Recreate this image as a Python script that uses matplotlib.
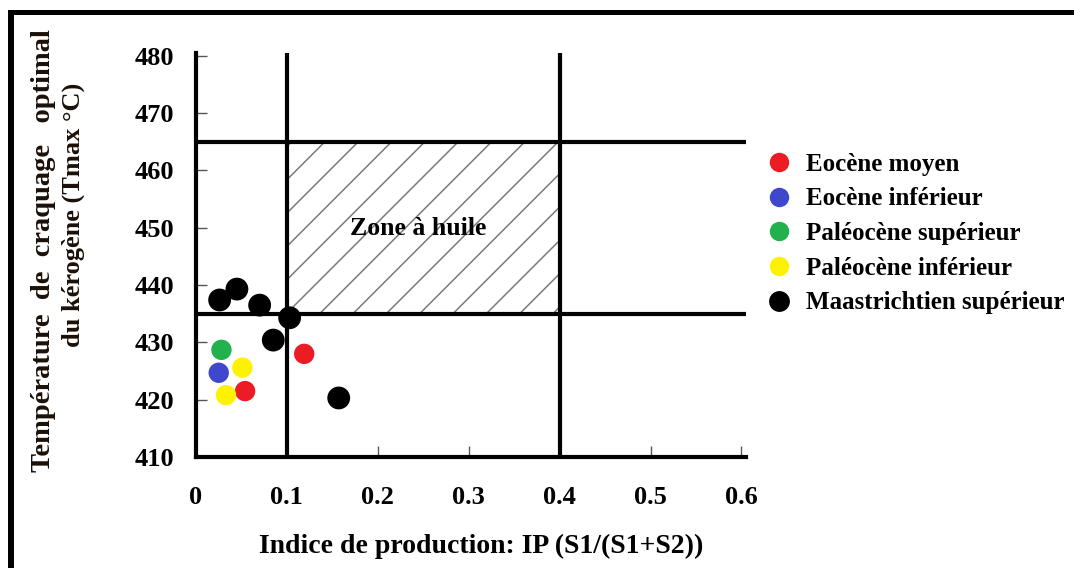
import matplotlib.pyplot as plt
from matplotlib.patches import Rectangle
from matplotlib.lines import Line2D

plt.rcParams['font.family'] = ['Liberation Serif', 'DejaVu Serif']
plt.rcParams['font.weight'] = 'bold'
plt.rcParams['hatch.linewidth'] = 1.1

# data
series_names = ['Eocène moyen', 'Eocène inférieur', 'Paléocène supérieur',
                'Paléocène inférieur', 'Maastrichtien supérieur']
series_colors = ['#ec1c24', '#3f48cc', '#22b14c', '#fff200', '#000000']
ip_values = [
    [0.119, 0.054],
    [0.025],
    [0.028],
    [0.051, 0.033],
    [0.026, 0.045, 0.070, 0.103, 0.085, 0.157],
]
tmax_values = [
    [428.0, 421.5],
    [424.7],
    [428.7],
    [425.6, 420.8],
    [437.4, 439.3, 436.5, 434.3, 430.4, 420.3],
]
x_ticks = [0, 0.1, 0.2, 0.3, 0.4, 0.5, 0.6]
x_tick_labels = ['0', '0.1', '0.2', '0.3', '0.4', '0.5', '0.6']
y_ticks = [410, 420, 430, 440, 450, 460, 470, 480]
ip_limits = [0.1, 0.4]
tmax_limits = [435, 465]

W, H = 1074, 568
fig = plt.figure(figsize=(W / 100, H / 100), dpi=100)
ax = fig.add_axes([196 / W, 111 / H, 550 / W, 404 / H])
ax.set_xlim(0, 0.605)
ax.set_ylim(410, 480.5)

# oil window
ax.add_patch(Rectangle((ip_limits[0], tmax_limits[0]),
                       ip_limits[1] - ip_limits[0], tmax_limits[1] - tmax_limits[0],
                       facecolor='none', edgecolor='#7a7a7a', lw=0, hatch='/', zorder=1))
ax.text(0.244, 449.8, 'Zone à huile', fontsize=18.5,
        fontweight='bold', ha='center', va='center', zorder=2)

for v in ip_limits:
    ax.axvline(v, color='black', lw=3, zorder=3, solid_capstyle='round')
for h in tmax_limits:
    ax.axhline(h, color='black', lw=3, zorder=3, solid_capstyle='round')

for name, col, xs, ys in zip(series_names, series_colors, ip_values, tmax_values):
    size = 270 if col == '#000000' else 215
    ax.scatter(xs, ys, s=size, color=col, edgecolors='none', zorder=4, label=name)

for s in ['top', 'right']:
    ax.spines[s].set_visible(False)
for s in ['left', 'bottom']:
    ax.spines[s].set_linewidth(3)
ax.set_xticks(x_ticks)
ax.set_xticklabels(x_tick_labels)
ax.set_yticks(y_ticks)
ax.tick_params(direction='in', length=8, width=1, color='#555555',
               labelsize=19, labelcolor='black')
ax.tick_params(axis='x', pad=21)
ax.tick_params(axis='y', pad=16)
for lab in ax.get_xticklabels() + ax.get_yticklabels():
    lab.set_fontweight('bold')

fig.text(481 / W, 1 - 546 / H, 'Indice de production: IP (S1/(S1+S2))',
         fontsize=20, fontweight='bold', ha='center', va='center')
fig.text(44 / W, 1 - 251 / H, 'Température  de  craquage   optimal',
         fontsize=20.5, fontweight='bold', rotation=90, ha='center', va='center',
         color='#1a1008')
fig.text(73 / W, 1 - 215 / H, 'du kérogène (Tmax °C)',
         fontsize=19, fontweight='bold', rotation=90, ha='center', va='center',
         color='#1a1008')

handles = [Line2D([], [], ls='none', marker='o', markersize=14 if c != '#000000' else 15,
                  markerfacecolor=c, markeredgecolor='none') for c in series_colors]
fig.legend(handles, series_names, loc='upper left',
           bbox_to_anchor=(751 / W, 1 - 140 / H), frameon=False,
           prop={'size': 18, 'weight': 'bold'}, labelspacing=0.47,
           handletextpad=0.5, handlelength=1.2, borderpad=0)

# outer frame (top and left only)
fig.add_artist(Line2D([8 / W, 1], [1 - 11.5 / H, 1 - 11.5 / H], color='black', lw=3.6,
                      transform=fig.transFigure, solid_capstyle='butt'))
fig.add_artist(Line2D([11 / W, 11 / W], [0, 1 - 9.5 / H], color='black', lw=4.3,
                      transform=fig.transFigure, solid_capstyle='butt'))

fig.savefig('out.png', dpi=100)
